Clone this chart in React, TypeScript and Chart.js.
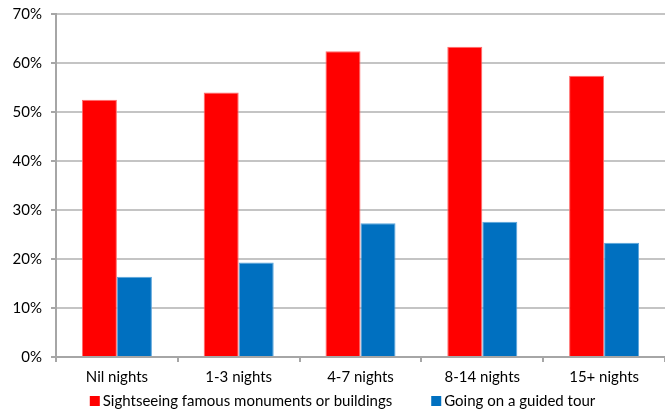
import React, { useEffect, useRef } from "react";
import { Chart, registerables } from "chart.js";

Chart.register(...registerables);

const categories = ["Nil nights", "1-3 nights", "4-7 nights", "8-14 nights", "15+ nights"];
const sightseeing = [52.5, 54.0, 62.4, 63.3, 57.4];
const guidedTour = [16.4, 19.3, 27.3, 27.6, 23.3];
const seriesNames = ["Sightseeing famous monuments or buildings", "Going on a guided tour"];
const seriesColors = ["#ff0000", "#0070c0"];
const seriesEdges = ["#ff6b6b", "#5aa5dc"];

const FONT = "Lato, 'Open Sans', sans-serif";

// Single-row legend under the axis, drawn from the dataset labels and colours.
const bottomLegend = {
  id: "bottomLegend",
  afterDraw(chart: any) {
    const ctx = chart.ctx as CanvasRenderingContext2D;
    const box = 10;
    const gapText = 3;
    const gapItem = 39;
    const cy = 401;
    ctx.save();
    ctx.font = `15px ${FONT}`;
    ctx.textBaseline = "middle";
    ctx.textAlign = "left";
    const items = chart.data.datasets.map((ds: any) => ({
      text: ds.label as string,
      color: ds.backgroundColor as string,
      w: ctx.measureText(ds.label).width,
    }));
    const total = items.reduce((s: number, it: any) => s + box + gapText + it.w, 0) + gapItem * (items.length - 1);
    let x = 342.5 - total / 2;
    items.forEach((it: any) => {
      ctx.fillStyle = it.color;
      ctx.fillRect(x, cy - box / 2, box, box);
      ctx.fillStyle = "#000";
      ctx.fillText(it.text, x + box + gapText, cy);
      x += box + gapText + it.w + gapItem;
    });
    ctx.restore();
  },
};

export default function App() {
  const canvasRef = useRef<HTMLCanvasElement | null>(null);

  useEffect(() => {
    document.body.style.margin = "0";
    const canvas = canvasRef.current;
    if (!canvas) return;
    const chart = new Chart(canvas, {
      type: "bar",
      data: {
        labels: categories,
        datasets: [
          {
            label: seriesNames[0],
            data: sightseeing,
            backgroundColor: seriesColors[0],
            borderColor: seriesEdges[0],
            borderWidth: 1,
            categoryPercentage: 0.575,
            barPercentage: 1,
          },
          {
            label: seriesNames[1],
            data: guidedTour,
            backgroundColor: seriesColors[1],
            borderColor: seriesEdges[1],
            borderWidth: 1,
            categoryPercentage: 0.575,
            barPercentage: 1,
          },
        ],
      },
      plugins: [bottomLegend],
      options: {
        animation: false,
        responsive: false,
        maintainAspectRatio: false,
        layout: { padding: { top: 14, right: 0, bottom: 0, left: 0 } },
        plugins: {
          tooltip: { enabled: false },
          legend: { display: false },
        },
        scales: {
          x: {
            offset: true,
            afterFit: (scale: any) => {
              scale.height = 56;
              scale.paddingLeft = 0;
              scale.paddingRight = 0;
            },
            grid: {
              offset: true,
              drawOnChartArea: false,
              drawTicks: true,
              tickLength: 5,
              color: "#a6a6a6",
              lineWidth: 2,
            },
            border: { color: "#a6a6a6", width: 2 },
            ticks: {
              color: "#000",
              padding: 6,
              font: { family: FONT, size: 15 },
            },
          },
          y: {
            min: 0,
            max: 70,
            afterFit: (scale: any) => {
              scale.width = 56;
              scale.paddingTop = 0;
              scale.paddingBottom = 0;
            },
            ticks: {
              stepSize: 10,
              color: "#000",
              padding: 9,
              font: { family: FONT, size: 15 },
              callback: (v: any) => v + "%",
            },
            grid: {
              color: "#c4c4c4",
              lineWidth: 2,
              tickLength: 5,
              tickColor: "#a6a6a6",
            },
            border: { color: "#a6a6a6", width: 2 },
          },
        },
      },
    });
    return () => chart.destroy();
  }, []);

  return (
    <div style={{ width: 665, height: 413, background: "#fff" }}>
      <canvas ref={canvasRef} width={665} height={413} />
    </div>
  );
}
